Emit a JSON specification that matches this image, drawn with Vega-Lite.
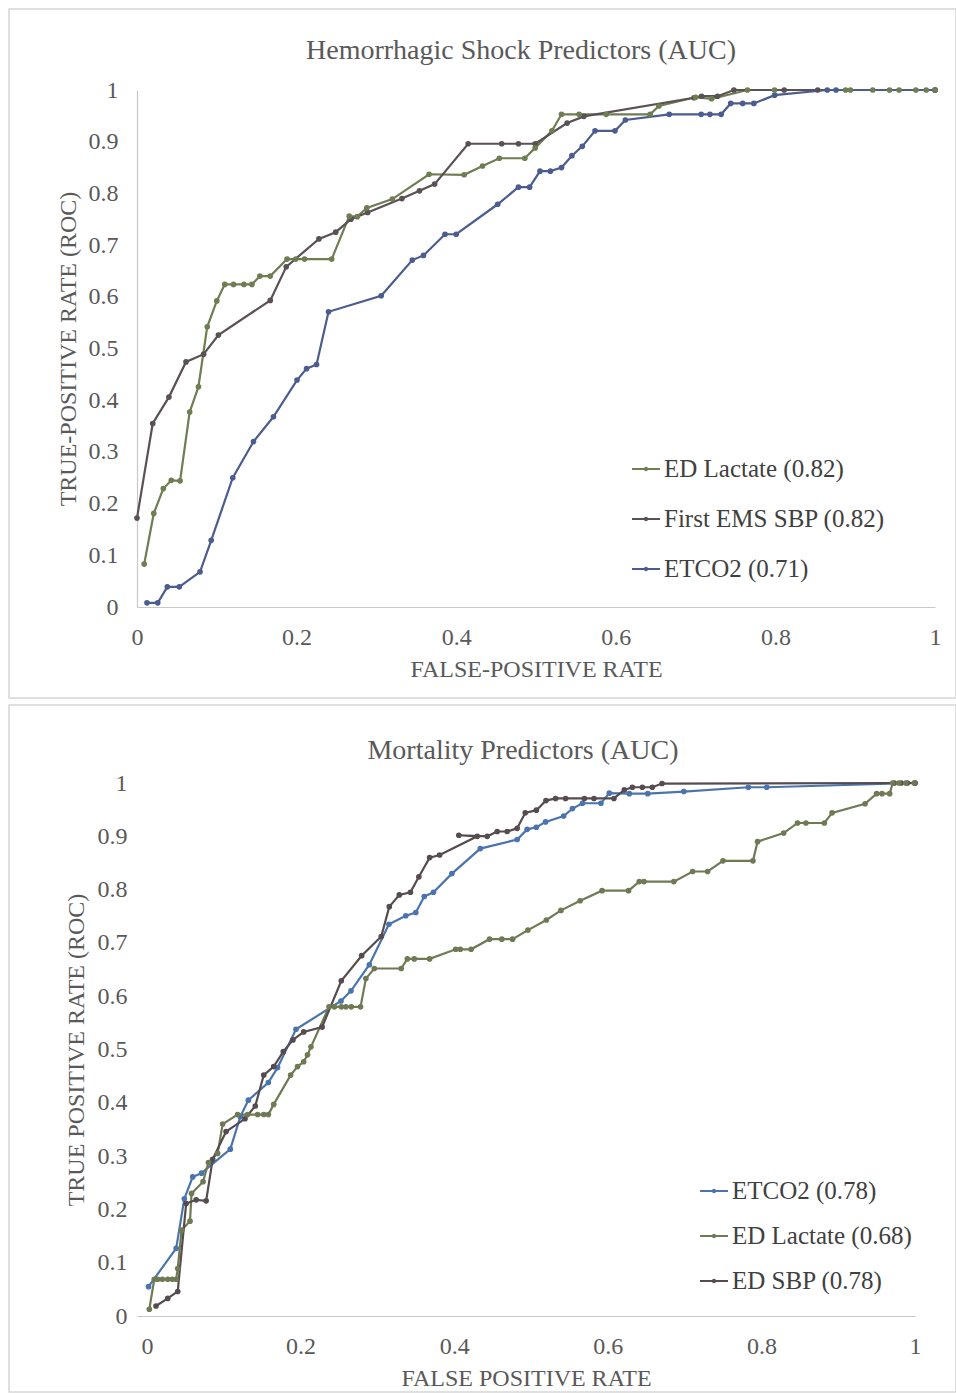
{
  "$schema": "https://vega.github.io/schema/vega-lite/v6.json",
  "padding": {"left": 8, "top": 8, "right": 0, "bottom": 0},
  "spacing": 5,
  "background": "white",
  "resolve": {"scale": {"color": "independent", "x": "independent", "y": "independent"}, "legend": {"color": "independent"}},
  "config": {
    "font": "Liberation Serif",
    "view": {"stroke": null},
    "axis": {"grid": false, "ticks": false, "labelFont": "Liberation Serif", "titleFont": "Liberation Serif", "labelFontSize": 24, "titleFontSize": 24, "labelColor": "#595959", "titleColor": "#595959", "titleFontWeight": "normal", "domainColor": "#c8c8c8", "domainWidth": 1.2},
    "title": {"font": "Liberation Serif", "fontSize": 28, "fontWeight": "normal", "color": "#595959", "anchor": "middle", "frame": "group"},
    "legend": {"orient": "none", "title": null, "labelFont": "Liberation Serif", "labelFontSize": 25, "labelColor": "#404040", "labelLimit": 0, "symbolType": "M-1,0H1M-0.09,0A0.09,0.09,0,1,1,0.09,0A0.09,0.09,0,1,1,-0.09,0", "symbolSize": 784, "symbolStrokeWidth": 2, "labelOffset": 3, "padding": 0}
  },
  "datasets": {
    "shock": [
      {"s": "ED Lactate (0.82)", "o": 1, "x": 0.009, "y": 0.083},
      {"s": "ED Lactate (0.82)", "o": 2, "x": 0.021, "y": 0.181},
      {"s": "ED Lactate (0.82)", "o": 3, "x": 0.033, "y": 0.229},
      {"s": "ED Lactate (0.82)", "o": 4, "x": 0.043, "y": 0.245},
      {"s": "ED Lactate (0.82)", "o": 5, "x": 0.054, "y": 0.244},
      {"s": "ED Lactate (0.82)", "o": 6, "x": 0.066, "y": 0.377},
      {"s": "ED Lactate (0.82)", "o": 7, "x": 0.077, "y": 0.426},
      {"s": "ED Lactate (0.82)", "o": 8, "x": 0.088, "y": 0.542},
      {"s": "ED Lactate (0.82)", "o": 9, "x": 0.1, "y": 0.592},
      {"s": "ED Lactate (0.82)", "o": 10, "x": 0.11, "y": 0.624},
      {"s": "ED Lactate (0.82)", "o": 11, "x": 0.121, "y": 0.624},
      {"s": "ED Lactate (0.82)", "o": 12, "x": 0.134, "y": 0.624},
      {"s": "ED Lactate (0.82)", "o": 13, "x": 0.144, "y": 0.624},
      {"s": "ED Lactate (0.82)", "o": 14, "x": 0.154, "y": 0.64},
      {"s": "ED Lactate (0.82)", "o": 15, "x": 0.167, "y": 0.64},
      {"s": "ED Lactate (0.82)", "o": 16, "x": 0.188, "y": 0.673},
      {"s": "ED Lactate (0.82)", "o": 17, "x": 0.199, "y": 0.673},
      {"s": "ED Lactate (0.82)", "o": 18, "x": 0.21, "y": 0.673},
      {"s": "ED Lactate (0.82)", "o": 19, "x": 0.244, "y": 0.673},
      {"s": "ED Lactate (0.82)", "o": 20, "x": 0.266, "y": 0.756},
      {"s": "ED Lactate (0.82)", "o": 21, "x": 0.276, "y": 0.755},
      {"s": "ED Lactate (0.82)", "o": 22, "x": 0.288, "y": 0.772},
      {"s": "ED Lactate (0.82)", "o": 23, "x": 0.32, "y": 0.789},
      {"s": "ED Lactate (0.82)", "o": 24, "x": 0.366, "y": 0.837},
      {"s": "ED Lactate (0.82)", "o": 25, "x": 0.41, "y": 0.836},
      {"s": "ED Lactate (0.82)", "o": 26, "x": 0.433, "y": 0.853},
      {"s": "ED Lactate (0.82)", "o": 27, "x": 0.454, "y": 0.868},
      {"s": "ED Lactate (0.82)", "o": 28, "x": 0.486, "y": 0.868},
      {"s": "ED Lactate (0.82)", "o": 29, "x": 0.499, "y": 0.888},
      {"s": "ED Lactate (0.82)", "o": 30, "x": 0.52, "y": 0.921},
      {"s": "ED Lactate (0.82)", "o": 31, "x": 0.532, "y": 0.953},
      {"s": "ED Lactate (0.82)", "o": 32, "x": 0.554, "y": 0.953},
      {"s": "ED Lactate (0.82)", "o": 33, "x": 0.588, "y": 0.953},
      {"s": "ED Lactate (0.82)", "o": 34, "x": 0.643, "y": 0.953},
      {"s": "ED Lactate (0.82)", "o": 35, "x": 0.654, "y": 0.969},
      {"s": "ED Lactate (0.82)", "o": 36, "x": 0.7, "y": 0.986},
      {"s": "ED Lactate (0.82)", "o": 37, "x": 0.72, "y": 0.983},
      {"s": "ED Lactate (0.82)", "o": 38, "x": 0.765, "y": 1.0},
      {"s": "ED Lactate (0.82)", "o": 39, "x": 0.799, "y": 1.0},
      {"s": "ED Lactate (0.82)", "o": 40, "x": 0.888, "y": 1.0},
      {"s": "ED Lactate (0.82)", "o": 41, "x": 0.894, "y": 1.0},
      {"s": "ED Lactate (0.82)", "o": 42, "x": 0.922, "y": 1.0},
      {"s": "ED Lactate (0.82)", "o": 43, "x": 0.943, "y": 1.0},
      {"s": "ED Lactate (0.82)", "o": 44, "x": 0.955, "y": 1.0},
      {"s": "ED Lactate (0.82)", "o": 45, "x": 0.976, "y": 1.0},
      {"s": "ED Lactate (0.82)", "o": 46, "x": 0.989, "y": 1.0},
      {"s": "ED Lactate (0.82)", "o": 47, "x": 1.0, "y": 1.0},
      {"s": "First EMS SBP (0.82)", "o": 1, "x": 0.0, "y": 0.172},
      {"s": "First EMS SBP (0.82)", "o": 2, "x": 0.0197, "y": 0.355},
      {"s": "First EMS SBP (0.82)", "o": 3, "x": 0.04, "y": 0.406},
      {"s": "First EMS SBP (0.82)", "o": 4, "x": 0.0614, "y": 0.474},
      {"s": "First EMS SBP (0.82)", "o": 5, "x": 0.0835, "y": 0.489},
      {"s": "First EMS SBP (0.82)", "o": 6, "x": 0.102, "y": 0.526},
      {"s": "First EMS SBP (0.82)", "o": 7, "x": 0.167, "y": 0.593},
      {"s": "First EMS SBP (0.82)", "o": 8, "x": 0.187, "y": 0.658},
      {"s": "First EMS SBP (0.82)", "o": 9, "x": 0.228, "y": 0.712},
      {"s": "First EMS SBP (0.82)", "o": 10, "x": 0.249, "y": 0.725},
      {"s": "First EMS SBP (0.82)", "o": 11, "x": 0.268, "y": 0.75},
      {"s": "First EMS SBP (0.82)", "o": 12, "x": 0.289, "y": 0.763},
      {"s": "First EMS SBP (0.82)", "o": 13, "x": 0.332, "y": 0.79},
      {"s": "First EMS SBP (0.82)", "o": 14, "x": 0.354, "y": 0.805},
      {"s": "First EMS SBP (0.82)", "o": 15, "x": 0.373, "y": 0.818},
      {"s": "First EMS SBP (0.82)", "o": 16, "x": 0.415, "y": 0.896},
      {"s": "First EMS SBP (0.82)", "o": 17, "x": 0.457, "y": 0.896},
      {"s": "First EMS SBP (0.82)", "o": 18, "x": 0.478, "y": 0.896},
      {"s": "First EMS SBP (0.82)", "o": 19, "x": 0.499, "y": 0.896},
      {"s": "First EMS SBP (0.82)", "o": 20, "x": 0.539, "y": 0.936},
      {"s": "First EMS SBP (0.82)", "o": 21, "x": 0.56, "y": 0.949},
      {"s": "First EMS SBP (0.82)", "o": 22, "x": 0.698, "y": 0.985},
      {"s": "First EMS SBP (0.82)", "o": 23, "x": 0.7075, "y": 0.988},
      {"s": "First EMS SBP (0.82)", "o": 24, "x": 0.7275, "y": 0.988},
      {"s": "First EMS SBP (0.82)", "o": 25, "x": 0.748, "y": 1.0},
      {"s": "First EMS SBP (0.82)", "o": 26, "x": 0.811, "y": 1.0},
      {"s": "First EMS SBP (0.82)", "o": 27, "x": 0.853, "y": 1.0},
      {"s": "First EMS SBP (0.82)", "o": 28, "x": 1.0, "y": 1.0},
      {"s": "ETCO2 (0.71)", "o": 1, "x": 0.0125, "y": 0.008},
      {"s": "ETCO2 (0.71)", "o": 2, "x": 0.026, "y": 0.008},
      {"s": "ETCO2 (0.71)", "o": 3, "x": 0.038, "y": 0.039},
      {"s": "ETCO2 (0.71)", "o": 4, "x": 0.053, "y": 0.039},
      {"s": "ETCO2 (0.71)", "o": 5, "x": 0.079, "y": 0.068},
      {"s": "ETCO2 (0.71)", "o": 6, "x": 0.093, "y": 0.129},
      {"s": "ETCO2 (0.71)", "o": 7, "x": 0.12, "y": 0.25},
      {"s": "ETCO2 (0.71)", "o": 8, "x": 0.146, "y": 0.32},
      {"s": "ETCO2 (0.71)", "o": 9, "x": 0.171, "y": 0.368},
      {"s": "ETCO2 (0.71)", "o": 10, "x": 0.2005, "y": 0.439},
      {"s": "ETCO2 (0.71)", "o": 11, "x": 0.2125, "y": 0.461},
      {"s": "ETCO2 (0.71)", "o": 12, "x": 0.225, "y": 0.469},
      {"s": "ETCO2 (0.71)", "o": 13, "x": 0.24, "y": 0.571},
      {"s": "ETCO2 (0.71)", "o": 14, "x": 0.306, "y": 0.602},
      {"s": "ETCO2 (0.71)", "o": 15, "x": 0.345, "y": 0.671},
      {"s": "ETCO2 (0.71)", "o": 16, "x": 0.359, "y": 0.68},
      {"s": "ETCO2 (0.71)", "o": 17, "x": 0.386, "y": 0.721},
      {"s": "ETCO2 (0.71)", "o": 18, "x": 0.4, "y": 0.721},
      {"s": "ETCO2 (0.71)", "o": 19, "x": 0.452, "y": 0.779},
      {"s": "ETCO2 (0.71)", "o": 20, "x": 0.478, "y": 0.812},
      {"s": "ETCO2 (0.71)", "o": 21, "x": 0.492, "y": 0.812},
      {"s": "ETCO2 (0.71)", "o": 22, "x": 0.505, "y": 0.843},
      {"s": "ETCO2 (0.71)", "o": 23, "x": 0.518, "y": 0.843},
      {"s": "ETCO2 (0.71)", "o": 24, "x": 0.532, "y": 0.85},
      {"s": "ETCO2 (0.71)", "o": 25, "x": 0.545, "y": 0.873},
      {"s": "ETCO2 (0.71)", "o": 26, "x": 0.558, "y": 0.891},
      {"s": "ETCO2 (0.71)", "o": 27, "x": 0.574, "y": 0.921},
      {"s": "ETCO2 (0.71)", "o": 28, "x": 0.599, "y": 0.921},
      {"s": "ETCO2 (0.71)", "o": 29, "x": 0.612, "y": 0.942},
      {"s": "ETCO2 (0.71)", "o": 30, "x": 0.667, "y": 0.953},
      {"s": "ETCO2 (0.71)", "o": 31, "x": 0.707, "y": 0.953},
      {"s": "ETCO2 (0.71)", "o": 32, "x": 0.718, "y": 0.953},
      {"s": "ETCO2 (0.71)", "o": 33, "x": 0.732, "y": 0.953},
      {"s": "ETCO2 (0.71)", "o": 34, "x": 0.744, "y": 0.974},
      {"s": "ETCO2 (0.71)", "o": 35, "x": 0.759, "y": 0.974},
      {"s": "ETCO2 (0.71)", "o": 36, "x": 0.773, "y": 0.974},
      {"s": "ETCO2 (0.71)", "o": 37, "x": 0.799, "y": 0.99},
      {"s": "ETCO2 (0.71)", "o": 38, "x": 0.865, "y": 1.0},
      {"s": "ETCO2 (0.71)", "o": 39, "x": 0.876, "y": 1.0},
      {"s": "ETCO2 (0.71)", "o": 40, "x": 1.0, "y": 1.0}
    ],
    "mortality": [
      {"s": "ETCO2 (0.78)", "o": 1, "x": 0.002, "y": 0.055},
      {"s": "ETCO2 (0.78)", "o": 2, "x": 0.038, "y": 0.127},
      {"s": "ETCO2 (0.78)", "o": 3, "x": 0.0486, "y": 0.22},
      {"s": "ETCO2 (0.78)", "o": 4, "x": 0.0595, "y": 0.261},
      {"s": "ETCO2 (0.78)", "o": 5, "x": 0.071, "y": 0.268},
      {"s": "ETCO2 (0.78)", "o": 6, "x": 0.1085, "y": 0.313},
      {"s": "ETCO2 (0.78)", "o": 7, "x": 0.1215, "y": 0.374},
      {"s": "ETCO2 (0.78)", "o": 8, "x": 0.132, "y": 0.405},
      {"s": "ETCO2 (0.78)", "o": 9, "x": 0.158, "y": 0.438},
      {"s": "ETCO2 (0.78)", "o": 10, "x": 0.17, "y": 0.466},
      {"s": "ETCO2 (0.78)", "o": 11, "x": 0.194, "y": 0.538},
      {"s": "ETCO2 (0.78)", "o": 12, "x": 0.2526, "y": 0.591},
      {"s": "ETCO2 (0.78)", "o": 13, "x": 0.2656, "y": 0.61},
      {"s": "ETCO2 (0.78)", "o": 14, "x": 0.2895, "y": 0.659},
      {"s": "ETCO2 (0.78)", "o": 15, "x": 0.315, "y": 0.735},
      {"s": "ETCO2 (0.78)", "o": 16, "x": 0.337, "y": 0.751},
      {"s": "ETCO2 (0.78)", "o": 17, "x": 0.35, "y": 0.757},
      {"s": "ETCO2 (0.78)", "o": 18, "x": 0.361, "y": 0.787},
      {"s": "ETCO2 (0.78)", "o": 19, "x": 0.373, "y": 0.795},
      {"s": "ETCO2 (0.78)", "o": 20, "x": 0.397, "y": 0.83},
      {"s": "ETCO2 (0.78)", "o": 21, "x": 0.434, "y": 0.877},
      {"s": "ETCO2 (0.78)", "o": 22, "x": 0.482, "y": 0.894},
      {"s": "ETCO2 (0.78)", "o": 23, "x": 0.495, "y": 0.913},
      {"s": "ETCO2 (0.78)", "o": 24, "x": 0.507, "y": 0.917},
      {"s": "ETCO2 (0.78)", "o": 25, "x": 0.519, "y": 0.927},
      {"s": "ETCO2 (0.78)", "o": 26, "x": 0.5425, "y": 0.938},
      {"s": "ETCO2 (0.78)", "o": 27, "x": 0.554, "y": 0.952},
      {"s": "ETCO2 (0.78)", "o": 28, "x": 0.567, "y": 0.962},
      {"s": "ETCO2 (0.78)", "o": 29, "x": 0.591, "y": 0.962},
      {"s": "ETCO2 (0.78)", "o": 30, "x": 0.602, "y": 0.981},
      {"s": "ETCO2 (0.78)", "o": 31, "x": 0.628, "y": 0.98},
      {"s": "ETCO2 (0.78)", "o": 32, "x": 0.652, "y": 0.98},
      {"s": "ETCO2 (0.78)", "o": 33, "x": 0.699, "y": 0.984},
      {"s": "ETCO2 (0.78)", "o": 34, "x": 0.783, "y": 0.992},
      {"s": "ETCO2 (0.78)", "o": 35, "x": 0.807, "y": 0.992},
      {"s": "ETCO2 (0.78)", "o": 36, "x": 1.0, "y": 1.0},
      {"s": "ED Lactate (0.68)", "o": 1, "x": 0.003, "y": 0.0126},
      {"s": "ED Lactate (0.68)", "o": 2, "x": 0.0095, "y": 0.069},
      {"s": "ED Lactate (0.68)", "o": 3, "x": 0.014, "y": 0.069},
      {"s": "ED Lactate (0.68)", "o": 4, "x": 0.02, "y": 0.069},
      {"s": "ED Lactate (0.68)", "o": 5, "x": 0.027, "y": 0.069},
      {"s": "ED Lactate (0.68)", "o": 6, "x": 0.033, "y": 0.069},
      {"s": "ED Lactate (0.68)", "o": 7, "x": 0.038, "y": 0.069},
      {"s": "ED Lactate (0.68)", "o": 8, "x": 0.04, "y": 0.089},
      {"s": "ED Lactate (0.68)", "o": 9, "x": 0.045, "y": 0.161},
      {"s": "ED Lactate (0.68)", "o": 10, "x": 0.056, "y": 0.178},
      {"s": "ED Lactate (0.68)", "o": 11, "x": 0.058, "y": 0.23},
      {"s": "ED Lactate (0.68)", "o": 12, "x": 0.073, "y": 0.252},
      {"s": "ED Lactate (0.68)", "o": 13, "x": 0.08, "y": 0.288},
      {"s": "ED Lactate (0.68)", "o": 14, "x": 0.092, "y": 0.305},
      {"s": "ED Lactate (0.68)", "o": 15, "x": 0.0985, "y": 0.36},
      {"s": "ED Lactate (0.68)", "o": 16, "x": 0.118, "y": 0.378},
      {"s": "ED Lactate (0.68)", "o": 17, "x": 0.131, "y": 0.378},
      {"s": "ED Lactate (0.68)", "o": 18, "x": 0.144, "y": 0.378},
      {"s": "ED Lactate (0.68)", "o": 19, "x": 0.152, "y": 0.378},
      {"s": "ED Lactate (0.68)", "o": 20, "x": 0.158, "y": 0.378},
      {"s": "ED Lactate (0.68)", "o": 21, "x": 0.165, "y": 0.397},
      {"s": "ED Lactate (0.68)", "o": 22, "x": 0.187, "y": 0.452},
      {"s": "ED Lactate (0.68)", "o": 23, "x": 0.196, "y": 0.468},
      {"s": "ED Lactate (0.68)", "o": 24, "x": 0.204, "y": 0.477},
      {"s": "ED Lactate (0.68)", "o": 25, "x": 0.209, "y": 0.49},
      {"s": "ED Lactate (0.68)", "o": 26, "x": 0.2135, "y": 0.505},
      {"s": "ED Lactate (0.68)", "o": 27, "x": 0.237, "y": 0.58},
      {"s": "ED Lactate (0.68)", "o": 28, "x": 0.244, "y": 0.58},
      {"s": "ED Lactate (0.68)", "o": 29, "x": 0.253, "y": 0.58},
      {"s": "ED Lactate (0.68)", "o": 30, "x": 0.259, "y": 0.58},
      {"s": "ED Lactate (0.68)", "o": 31, "x": 0.266, "y": 0.58},
      {"s": "ED Lactate (0.68)", "o": 32, "x": 0.278, "y": 0.58},
      {"s": "ED Lactate (0.68)", "o": 33, "x": 0.285, "y": 0.633},
      {"s": "ED Lactate (0.68)", "o": 34, "x": 0.296, "y": 0.652},
      {"s": "ED Lactate (0.68)", "o": 35, "x": 0.331, "y": 0.652},
      {"s": "ED Lactate (0.68)", "o": 36, "x": 0.339, "y": 0.67},
      {"s": "ED Lactate (0.68)", "o": 37, "x": 0.348, "y": 0.67},
      {"s": "ED Lactate (0.68)", "o": 38, "x": 0.368, "y": 0.67},
      {"s": "ED Lactate (0.68)", "o": 39, "x": 0.402, "y": 0.688},
      {"s": "ED Lactate (0.68)", "o": 40, "x": 0.408, "y": 0.688},
      {"s": "ED Lactate (0.68)", "o": 41, "x": 0.422, "y": 0.688},
      {"s": "ED Lactate (0.68)", "o": 42, "x": 0.446, "y": 0.707},
      {"s": "ED Lactate (0.68)", "o": 43, "x": 0.462, "y": 0.707},
      {"s": "ED Lactate (0.68)", "o": 44, "x": 0.476, "y": 0.707},
      {"s": "ED Lactate (0.68)", "o": 45, "x": 0.496, "y": 0.724},
      {"s": "ED Lactate (0.68)", "o": 46, "x": 0.52, "y": 0.743},
      {"s": "ED Lactate (0.68)", "o": 47, "x": 0.539, "y": 0.761},
      {"s": "ED Lactate (0.68)", "o": 48, "x": 0.564, "y": 0.779},
      {"s": "ED Lactate (0.68)", "o": 49, "x": 0.5925, "y": 0.798},
      {"s": "ED Lactate (0.68)", "o": 50, "x": 0.627, "y": 0.798},
      {"s": "ED Lactate (0.68)", "o": 51, "x": 0.641, "y": 0.815},
      {"s": "ED Lactate (0.68)", "o": 52, "x": 0.647, "y": 0.815},
      {"s": "ED Lactate (0.68)", "o": 53, "x": 0.686, "y": 0.815},
      {"s": "ED Lactate (0.68)", "o": 54, "x": 0.7105, "y": 0.834},
      {"s": "ED Lactate (0.68)", "o": 55, "x": 0.73, "y": 0.834},
      {"s": "ED Lactate (0.68)", "o": 56, "x": 0.75, "y": 0.854},
      {"s": "ED Lactate (0.68)", "o": 57, "x": 0.789, "y": 0.854},
      {"s": "ED Lactate (0.68)", "o": 58, "x": 0.795, "y": 0.89},
      {"s": "ED Lactate (0.68)", "o": 59, "x": 0.829, "y": 0.906},
      {"s": "ED Lactate (0.68)", "o": 60, "x": 0.847, "y": 0.925},
      {"s": "ED Lactate (0.68)", "o": 61, "x": 0.858, "y": 0.925},
      {"s": "ED Lactate (0.68)", "o": 62, "x": 0.882, "y": 0.925},
      {"s": "ED Lactate (0.68)", "o": 63, "x": 0.892, "y": 0.944},
      {"s": "ED Lactate (0.68)", "o": 64, "x": 0.935, "y": 0.961},
      {"s": "ED Lactate (0.68)", "o": 65, "x": 0.95, "y": 0.98},
      {"s": "ED Lactate (0.68)", "o": 66, "x": 0.957, "y": 0.98},
      {"s": "ED Lactate (0.68)", "o": 67, "x": 0.967, "y": 0.98},
      {"s": "ED Lactate (0.68)", "o": 68, "x": 0.971, "y": 1.0},
      {"s": "ED Lactate (0.68)", "o": 69, "x": 0.979, "y": 1.0},
      {"s": "ED Lactate (0.68)", "o": 70, "x": 0.988, "y": 1.0},
      {"s": "ED Lactate (0.68)", "o": 71, "x": 0.999, "y": 1.0},
      {"s": "ED SBP (0.78)", "o": 1, "x": 0.0117, "y": 0.0188},
      {"s": "ED SBP (0.78)", "o": 2, "x": 0.027, "y": 0.033},
      {"s": "ED SBP (0.78)", "o": 3, "x": 0.04, "y": 0.046},
      {"s": "ED SBP (0.78)", "o": 4, "x": 0.051, "y": 0.211},
      {"s": "ED SBP (0.78)", "o": 5, "x": 0.064, "y": 0.218},
      {"s": "ED SBP (0.78)", "o": 6, "x": 0.077, "y": 0.216},
      {"s": "ED SBP (0.78)", "o": 7, "x": 0.0855, "y": 0.294},
      {"s": "ED SBP (0.78)", "o": 8, "x": 0.103, "y": 0.346},
      {"s": "ED SBP (0.78)", "o": 9, "x": 0.1276, "y": 0.37},
      {"s": "ED SBP (0.78)", "o": 10, "x": 0.141, "y": 0.394},
      {"s": "ED SBP (0.78)", "o": 11, "x": 0.152, "y": 0.452},
      {"s": "ED SBP (0.78)", "o": 12, "x": 0.165, "y": 0.468},
      {"s": "ED SBP (0.78)", "o": 13, "x": 0.1775, "y": 0.496},
      {"s": "ED SBP (0.78)", "o": 14, "x": 0.19, "y": 0.518},
      {"s": "ED SBP (0.78)", "o": 15, "x": 0.204, "y": 0.533},
      {"s": "ED SBP (0.78)", "o": 16, "x": 0.228, "y": 0.542},
      {"s": "ED SBP (0.78)", "o": 17, "x": 0.253, "y": 0.629},
      {"s": "ED SBP (0.78)", "o": 18, "x": 0.2795, "y": 0.676},
      {"s": "ED SBP (0.78)", "o": 19, "x": 0.305, "y": 0.712},
      {"s": "ED SBP (0.78)", "o": 20, "x": 0.3155, "y": 0.768},
      {"s": "ED SBP (0.78)", "o": 21, "x": 0.3285, "y": 0.79},
      {"s": "ED SBP (0.78)", "o": 22, "x": 0.343, "y": 0.795},
      {"s": "ED SBP (0.78)", "o": 23, "x": 0.354, "y": 0.824},
      {"s": "ED SBP (0.78)", "o": 24, "x": 0.368, "y": 0.86},
      {"s": "ED SBP (0.78)", "o": 25, "x": 0.381, "y": 0.865},
      {"s": "ED SBP (0.78)", "o": 26, "x": 0.43, "y": 0.9},
      {"s": "ED SBP (0.78)", "o": 27, "x": 0.406, "y": 0.902},
      {"s": "ED SBP (0.78)", "o": 28, "x": 0.443, "y": 0.9},
      {"s": "ED SBP (0.78)", "o": 29, "x": 0.456, "y": 0.909},
      {"s": "ED SBP (0.78)", "o": 30, "x": 0.469, "y": 0.909},
      {"s": "ED SBP (0.78)", "o": 31, "x": 0.482, "y": 0.915},
      {"s": "ED SBP (0.78)", "o": 32, "x": 0.4925, "y": 0.944},
      {"s": "ED SBP (0.78)", "o": 33, "x": 0.507, "y": 0.949},
      {"s": "ED SBP (0.78)", "o": 34, "x": 0.5195, "y": 0.967},
      {"s": "ED SBP (0.78)", "o": 35, "x": 0.532, "y": 0.971},
      {"s": "ED SBP (0.78)", "o": 36, "x": 0.545, "y": 0.971},
      {"s": "ED SBP (0.78)", "o": 37, "x": 0.5695, "y": 0.971},
      {"s": "ED SBP (0.78)", "o": 38, "x": 0.582, "y": 0.971},
      {"s": "ED SBP (0.78)", "o": 39, "x": 0.608, "y": 0.971},
      {"s": "ED SBP (0.78)", "o": 40, "x": 0.6215, "y": 0.987},
      {"s": "ED SBP (0.78)", "o": 41, "x": 0.632, "y": 0.992},
      {"s": "ED SBP (0.78)", "o": 42, "x": 0.645, "y": 0.992},
      {"s": "ED SBP (0.78)", "o": 43, "x": 0.658, "y": 0.992},
      {"s": "ED SBP (0.78)", "o": 44, "x": 0.6706, "y": 0.999},
      {"s": "ED SBP (0.78)", "o": 45, "x": 0.973, "y": 1.0},
      {"s": "ED SBP (0.78)", "o": 46, "x": 0.982, "y": 1.0},
      {"s": "ED SBP (0.78)", "o": 47, "x": 0.99, "y": 1.0},
      {"s": "ED SBP (0.78)", "o": 48, "x": 1.0, "y": 1.0}
    ]
  },
  "vconcat": [
    {
      "width": 798,
      "height": 517,
      "title": {"text": "Hemorrhagic Shock Predictors (AUC)", "offset": -57, "dx": -15},
      "layer": [
        {
          "data": {"values": [{"frame": "panel"}]},
          "mark": {"type": "rect", "fill": null, "stroke": "#d6d6d6", "strokeWidth": 1.5, "clip": false},
          "encoding": {
            "x": {"datum": -0.1604, "type": "quantitative"},
            "x2": {"datum": 1.0263},
            "y": {"datum": 1.1567, "type": "quantitative"},
            "y2": {"datum": -0.176}
          }
        },
        {
          "data": {"name": "shock"},
          "mark": {"type": "line", "strokeWidth": 2.2, "point": {"filled": true, "size": 32}},
          "encoding": {
            "x": {"field": "x", "type": "quantitative", "scale": {"domain": [0, 1], "nice": false},
              "axis": {"title": "FALSE-POSITIVE RATE", "values": [0, 0.2, 0.4, 0.6, 0.8, 1], "format": "~g", "labelPadding": 18, "titlePadding": 8, "labelFlush": false}},
            "y": {"field": "y", "type": "quantitative", "scale": {"domain": [0, 1], "nice": false},
              "axis": {"title": "TRUE-POSITIVE RATE (ROC)", "values": [0, 0.1, 0.2, 0.3, 0.4, 0.5, 0.6, 0.7, 0.8, 0.9, 1], "format": "~g", "labelPadding": 19, "titlePadding": 8, "labelFlush": false}},
            "color": {"field": "s", "type": "nominal",
              "scale": {"domain": ["ED Lactate (0.82)", "First EMS SBP (0.82)", "ETCO2 (0.71)"], "range": ["#6e7d52", "#5a5155", "#4b5c8e"]},
              "legend": {"legendX": 494, "legendY": 364, "rowPadding": 22}},
            "order": {"field": "o", "type": "quantitative"}
          }
        }
      ]
    },
    {
      "width": 778,
      "height": 533,
      "title": {"text": "Mortality Predictors (AUC)", "offset": -61, "dx": -3},
      "layer": [
        {
          "data": {"values": [{"frame": "panel"}]},
          "mark": {"type": "rect", "fill": null, "stroke": "#d6d6d6", "strokeWidth": 1.5, "clip": false},
          "encoding": {
            "x": {"datum": -0.1797, "type": "quantitative"},
            "x2": {"datum": 1.0534},
            "y": {"datum": 1.1463, "type": "quantitative"},
            "y2": {"datum": -0.1426}
          }
        },
        {
          "data": {"name": "mortality"},
          "mark": {"type": "line", "strokeWidth": 2.2, "point": {"filled": true, "size": 32}},
          "encoding": {
            "x": {"field": "x", "type": "quantitative", "scale": {"domain": [-0.01302, 1], "nice": false, "zero": false},
              "axis": {"title": "FALSE POSITIVE RATE", "values": [0, 0.2, 0.4, 0.6, 0.8, 1], "format": "~g", "labelPadding": 18, "titlePadding": 8, "labelFlush": false}},
            "y": {"field": "y", "type": "quantitative", "scale": {"domain": [0, 1], "nice": false},
              "axis": {"title": "TRUE POSITIVE RATE (ROC)", "values": [0, 0.1, 0.2, 0.3, 0.4, 0.5, 0.6, 0.7, 0.8, 0.9, 1], "format": "~g", "labelPadding": 10, "titlePadding": 9, "labelFlush": false, "domain": false}},
            "color": {"field": "s", "type": "nominal",
              "scale": {"domain": ["ETCO2 (0.78)", "ED Lactate (0.68)", "ED SBP (0.78)"], "range": ["#4a74ab", "#6f7a55", "#564b4f"]},
              "legend": {"legendX": 562, "legendY": 393, "rowPadding": 17}},
            "order": {"field": "o", "type": "quantitative"}
          }
        }
      ]
    }
  ]
}
